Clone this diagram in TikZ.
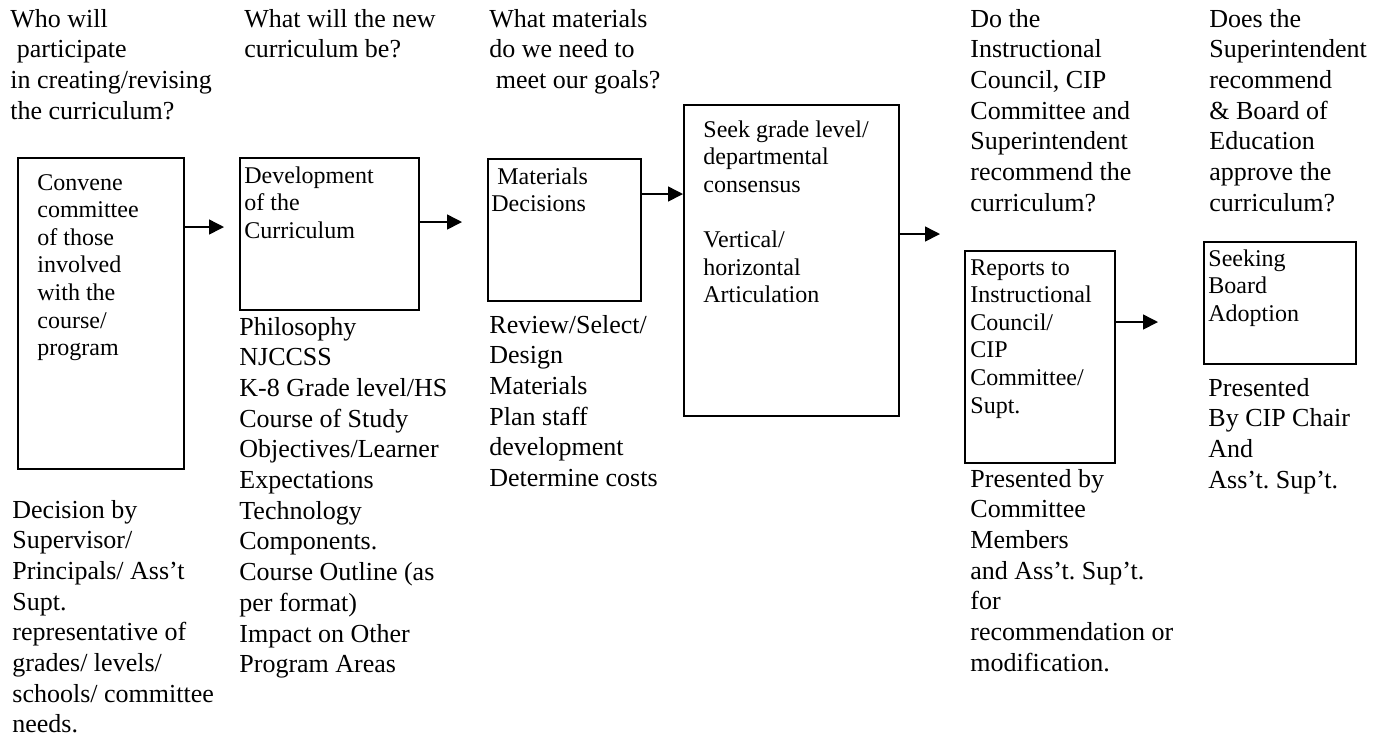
\documentclass[tikz,border=0pt]{standalone}
\usepackage{fontspec}
\setmainfont{Liberation Serif}
\usetikzlibrary{arrows.meta}
\frenchspacing
\newcommand\stk[1]{\begin{tabular}[t]{@{}l@{}}#1\end{tabular}}
\newcommand\lsp{\hspace*{0.25em}}
\begin{document}
\frenchspacing
\begin{tikzpicture}[x=0.5pt,y=-0.5pt,
  box/.style={draw, line width=1pt, inner sep=0pt, anchor=north west},
  outtxt/.style={inner sep=0pt, anchor=base west, font=\fontsize{13}{15.35}\selectfont},
  intxt/.style={inner sep=0pt, anchor=base west, font=\fontsize{12}{13.8}\selectfont},
  arr/.style={line width=0.75pt, -{Triangle[length=7.5pt,width=7.5pt]}}]
\useasboundingbox (0,0) rectangle (1390,736);

% boxes
\node[box, minimum width=83pt, minimum height=155.5pt] (b1) at (17,157) {};
\node[box, minimum width=89.5pt, minimum height=76pt] (b2) at (239,157) {};
\node[box, minimum width=76.5pt, minimum height=71pt] (b3) at (487,158) {};
\node[box, minimum width=107.5pt, minimum height=155.5pt] (b4) at (683,104) {};
\node[box, minimum width=75pt, minimum height=106pt] (b5) at (964,250) {};
\node[box, minimum width=76pt, minimum height=61pt] (b6) at (1203,241) {};

% texts inside boxes
\node[intxt] (t1) at (37,190) {\stk{Convene\\committee\\of those\\involved\\with the\\course/\\program}};
\node[intxt] (t2) at (244,183) {\stk{Development\\of the\\Curriculum}};
\node[intxt] (t3) at (491,184) {\stk{\lsp Materials\\Decisions}};
\node[intxt] (t4) at (703,137) {\stk{Seek grade level/\\departmental\\consensus\\ \\Vertical/\\horizontal\\Articulation}};
\node[intxt] (t5) at (970,275) {\stk{Reports to\\Instructional\\Council/\\CIP\\Committee/\\Supt.}};
\node[intxt] (t6) at (1208,266) {\stk{Seeking\\Board\\Adoption}};

% headers
\node[outtxt] (h1) at (10,27) {\stk{Who will\\\lsp participate\\in creating/revising\\the curriculum?}};
\node[outtxt] (h2) at (244,27) {\stk{What will the new\\curriculum be?}};
\node[outtxt] (h3) at (489,27) {\stk{What materials\\do we need to\\\lsp meet our goals?}};
\node[outtxt] (h5) at (970,27) {\stk{Do the\\Instructional\\Council, CIP\\Committee and\\Superintendent\\recommend the\\curriculum?}};
\node[outtxt] (h6) at (1209,27) {\stk{Does the\\Superintendent\\recommend\\\& Board of\\Education\\approve the\\curriculum?}};

% descriptions below
\node[outtxt] (d1) at (12,518) {\stk{Decision by\\Supervisor/\\Principals/ Ass’t\\Supt.\\representative of\\grades/ levels/\\schools/ committee\\needs.}};
\node[outtxt] (d2) at (239,335) {\stk{Philosophy\\NJCCSS\\K-8 Grade level/HS\\Course of Study\\Objectives/Learner\\Expectations\\Technology\\Components.\\Course Outline (as\\per format)\\Impact on Other\\Program Areas}};
\node[outtxt] (d3) at (489,333) {\stk{Review/Select/\\Design\\Materials\\Plan staff\\development\\Determine costs}};
\node[outtxt] (d5) at (970,487) {\stk{Presented by\\Committee\\Members\\and Ass’t. Sup’t.\\for\\recommendation or\\modification.}};
\node[outtxt] (d6) at (1208,396) {\stk{Presented\\By CIP Chair\\And\\Ass’t. Sup’t.}};

% arrows
\coordinate (e1) at (224,227);
\coordinate (e2) at (462,222);
\coordinate (e3) at (683,194);
\coordinate (e4) at (940,234);
\coordinate (e5) at (1158,322);
\draw[arr] (e1 -| b1.east) -- (e1);
\draw[arr] (e2 -| b2.east) -- (e2);
\draw[arr] (e3 -| b3.east) -- (e3 -| b4.west);
\draw[arr] (e4 -| b4.east) -- (e4);
\draw[arr] (e5 -| b5.east) -- (e5);
\end{tikzpicture}
\end{document}
